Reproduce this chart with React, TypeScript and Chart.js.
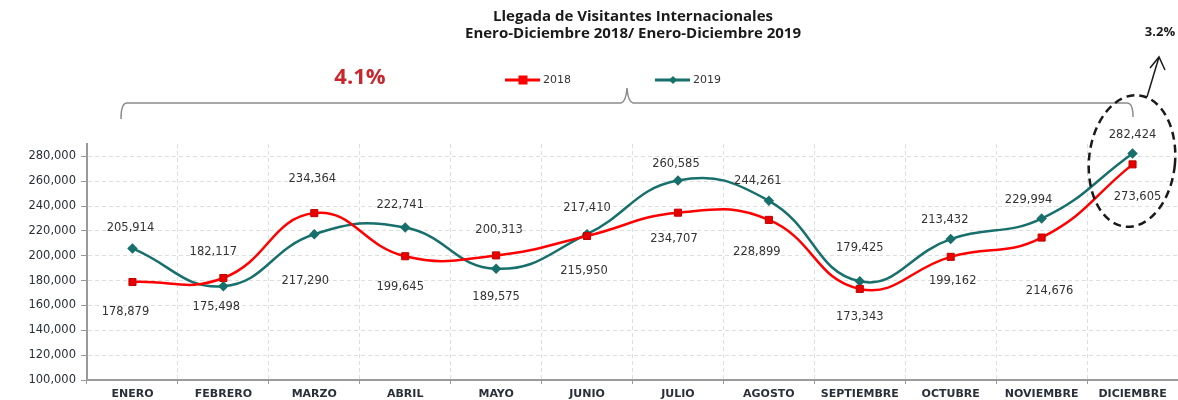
import React, { useEffect, useRef } from "react";
import { Chart, registerables } from "chart.js";

Chart.register(...registerables);

const categories = ["ENERO", "FEBRERO", "MARZO", "ABRIL", "MAYO", "JUNIO", "JULIO", "AGOSTO", "SEPTIEMBRE", "OCTUBRE", "NOVIEMBRE", "DICIEMBRE"];
const visitors2018 = [178879, 182117, 234364, 199645, 200313, 215950, 234707, 228899, 173343, 199162, 214676, 273605];
const visitors2019 = [205914, 175498, 217290, 222741, 189575, 217410, 260585, 244261, 179425, 213432, 229994, 282424];
const yTickValues = [100000, 120000, 140000, 160000, 180000, 200000, 220000, 240000, 260000, 280000];
const titleLines = ["Llegada de Visitantes Internacionales", "Enero-Diciembre 2018/ Enero-Diciembre 2019"];
const growthTotal = "4.1%";
const growthDecember = "3.2%";
const yMin = 100000;
const yMax = 290000;

// label placement (pixel offsets from each point), kept apart from the data
const labelOffsets2018 = [[-7, 30], [-10, -26], [-2, -34], [-5, 31], [3, -25], [-3, 35], [-4, 26], [-12, 32], [0, 28], [2, 24], [8, 53], [5, 33]];
const labelOffsets2019 = [[-2, -20], [-7, 21], [-9, 47], [-5, -23], [0, 28], [0, -26], [-2, -17], [-11, -20], [0, -33], [-6, -19], [-13, -19], [0, -18]];

const RED = "#ff0000";
const TEAL = "#17706b";
const NUM_FONT = "'DejaVu Sans', Verdana, sans-serif";
const TITLE_FONT = "'Open Sans', 'Liberation Sans', Arial, sans-serif";
const fmt = (v: number) => v.toLocaleString("en-US");

const decorPlugin = {
  id: "decor",
  afterDatasetsDraw(chart: any) {
    const ctx = chart.ctx;
    ctx.save();
    ctx.font = `11.5px ${NUM_FONT}`;
    ctx.fillStyle = "#333333";
    ctx.textAlign = "center";
    ctx.textBaseline = "middle";
    const sets = [labelOffsets2018, labelOffsets2019];
    chart.data.datasets.forEach((ds: any, di: number) => {
      const meta = chart.getDatasetMeta(di);
      meta.data.forEach((pt: any, i: number) => {
        const off = sets[di][i];
        ctx.fillText(fmt(ds.data[i]), pt.x + off[0], pt.y + off[1]);
      });
    });
    ctx.restore();
  },
  afterDraw(chart: any) {
    const ctx = chart.ctx;
    ctx.save();
    // title
    ctx.fillStyle = "#1a1a1a";
    ctx.textAlign = "center";
    ctx.textBaseline = "middle";
    ctx.font = `bold 15px ${TITLE_FONT}`;
    ctx.fillText(titleLines[0], 633, 17);
    ctx.fillText(titleLines[1], 633, 34);

    // 4.1%
    ctx.fillStyle = "#c8282d";
    ctx.font = `bold 22px ${TITLE_FONT}`;
    ctx.fillText(growthTotal, 360, 78);

    // 3.2%
    ctx.fillStyle = "#1a1a1a";
    ctx.font = `bold 13px ${TITLE_FONT}`;
    ctx.fillText(growthDecember, 1160, 32);

    // legend
    const drawLegend = (x: number, color: string, label: string, style: string) => {
      const y = 80;
      ctx.strokeStyle = color;
      ctx.lineWidth = 3;
      ctx.beginPath();
      ctx.moveTo(x, y);
      ctx.lineTo(x + 35, y);
      ctx.stroke();
      ctx.fillStyle = color;
      const cx = x + 18;
      if (style === "rect") {
        ctx.fillRect(cx - 4.5, y - 4.5, 9, 9);
      } else {
        ctx.beginPath();
        ctx.moveTo(cx, y - 4);
        ctx.lineTo(cx + 4, y);
        ctx.lineTo(cx, y + 4);
        ctx.lineTo(cx - 4, y);
        ctx.closePath();
        ctx.fill();
      }
      ctx.fillStyle = "#333333";
      ctx.textAlign = "left";
      ctx.font = `11px ${NUM_FONT}`;
      ctx.fillText(label, x + 38, y);
    };
    drawLegend(505, RED, chart.data.datasets[0].label, "rect");
    drawLegend(655, TEAL, chart.data.datasets[1].label, "diamond");

    // brace
    ctx.strokeStyle = "#8c8c8c";
    ctx.lineWidth = 1.5;
    ctx.beginPath();
    ctx.moveTo(121, 119);
    ctx.quadraticCurveTo(121, 103, 127, 103);
    ctx.lineTo(621, 103);
    ctx.quadraticCurveTo(626, 102, 627, 88);
    ctx.quadraticCurveTo(628, 102, 633, 103);
    ctx.lineTo(1127, 103);
    ctx.quadraticCurveTo(1133, 103, 1133, 117);
    ctx.stroke();

    // dashed ellipse
    ctx.strokeStyle = "#1a1a1a";
    ctx.lineWidth = 2.5;
    ctx.setLineDash([8, 5]);
    ctx.beginPath();
    ctx.ellipse(1132, 161, 43, 66, 0.1, 0, Math.PI * 2);
    ctx.stroke();
    ctx.setLineDash([]);

    // arrow
    ctx.lineWidth = 1.5;
    ctx.beginPath();
    ctx.moveTo(1147, 97);
    ctx.lineTo(1159, 57);
    ctx.stroke();
    ctx.beginPath();
    ctx.moveTo(1150, 68);
    ctx.lineTo(1159, 57);
    ctx.lineTo(1165, 70);
    ctx.stroke();
    ctx.restore();
  },
};

export default function App() {
  const ref = useRef<HTMLCanvasElement | null>(null);
  useEffect(() => {
    document.body.style.margin = "0";
    if (!ref.current) return;
    const chart = new Chart(ref.current, {
      type: "line",
      data: {
        labels: categories,
        datasets: [
          {
            label: "2018",
            data: visitors2018,
            borderColor: RED,
            backgroundColor: "#e80000",
            pointBackgroundColor: "#e80000",
            pointBorderColor: "#c00000",
            pointBorderWidth: 1,
            borderWidth: 2.5,
            pointStyle: "rect",
            pointRadius: 5,
            tension: 0.45,
            fill: false,
          },
          {
            label: "2019",
            data: visitors2019,
            borderColor: TEAL,
            backgroundColor: TEAL,
            pointBackgroundColor: TEAL,
            pointBorderColor: TEAL,
            borderWidth: 2.5,
            pointStyle: "rectRot",
            pointRadius: 3.5,
            tension: 0.45,
            fill: false,
          },
        ],
      },
      options: {
        animation: false,
        responsive: false,
        maintainAspectRatio: false,
        layout: { autoPadding: false, padding: { top: 144, left: 0, right: 0, bottom: 0 } } as any,
        plugins: { legend: { display: false }, title: { display: false }, tooltip: { enabled: false } },
        scales: {
          x: {
            offset: true,
            grid: {
              offset: true,
              color: "#dedede",
              tickLength: 4,
              tickColor: "#999999",
              tickBorderDash: [],
              drawTicks: true,
            } as any,
            border: { color: "#9a9a9a", width: 2, dash: [4, 3] } as any,
            ticks: {
              font: { family: NUM_FONT, size: 11, weight: "bold" },
              color: "#2a2f3a",
              padding: 4,
              maxRotation: 0,
              autoSkip: false,
            },
            afterFit: (axis: any) => {
              axis.height = 20;
              axis.paddingLeft = 0;
              axis.paddingRight = 0;
            },
          },
          y: {
            min: yMin,
            max: yMax,
            grid: {
              color: "#dedede",
              tickLength: 6,
              tickColor: "#999999",
              tickBorderDash: [],
            } as any,
            border: { color: "#9a9a9a", width: 2, dash: [4, 3] } as any,
            ticks: {
              font: { family: NUM_FONT, size: 11.5 },
              color: "#2a2f3a",
              padding: 5,
              callback: (v: any) => fmt(Number(v)),
            },
            afterBuildTicks: (axis: any) => {
              axis.ticks = yTickValues.map((v) => ({ value: v }));
            },
            afterFit: (axis: any) => {
              axis.width = 87;
              axis.paddingTop = 0;
              axis.paddingBottom = 0;
            },
          },
        },
      },
      plugins: [decorPlugin],
    });
    return () => chart.destroy();
  }, []);
  return (
    <div style={{ width: 1178, height: 400, position: "relative" }}>
      <canvas ref={ref} width={1178} height={400} style={{ display: "block" }} />
    </div>
  );
}
